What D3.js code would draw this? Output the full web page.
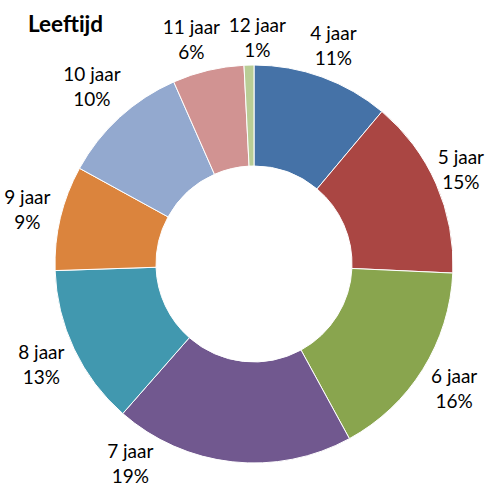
<!DOCTYPE html>
<html>
<head>
<meta charset="utf-8">
<script src="https://cdn.jsdelivr.net/npm/d3@7"></script>
<style>
body{margin:0;background:#fff}
</style>
</head>
<body>
<div id="chart"></div>
<script>
"use strict"
// ages and share (percent)
var categories=['4 jaar','5 jaar','6 jaar','7 jaar','8 jaar','9 jaar','10 jaar','11 jaar','12 jaar']
var values=[11.1,14.6,16.3,19.4,13.0,8.5,10.4,5.8,0.8]
var colors=['#4572A7','#AA4643','#89A54E','#71588F','#4198AF','#DB843D','#93A9CF','#D19392','#B9CD96']

var W=488,H=486
var cx=254,cy=264,rOut=199,rIn=98,gap=7
var font='Lato, "Open Sans", sans-serif'

var svg=d3.select('#chart').append('svg').attr('width',W).attr('height',H)

svg.append('text').attr('x',28).attr('y',32)
  .attr('font-family',font).attr('font-size',22.5).attr('font-weight','bold')
  .attr('fill','#000').text('Leeftijd')

var total=d3.sum(values)
var pie=d3.pie().sort(null).value(function(d){return d})
var arcs=pie(values)
var arc=d3.arc().innerRadius(rIn).outerRadius(rOut)

var g=svg.append('g').attr('transform','translate('+cx+','+cy+')')
g.selectAll('path').data(arcs).enter().append('path')
  .attr('d',arc)
  .attr('fill',function(d,i){return colors[i]})
  .attr('stroke','#fff').attr('stroke-width',1)

// labels: start at the slice middle, just outside the ring, then keep inside the page and apart
var labs=arcs.map(function(a,i){return {a:(a.startAngle+a.endAngle)/2,i:i}})
var lg=svg.append('g')
var hh=19.5
labs.forEach(function(l){
  l.t=lg.append('text').attr('font-family',font).attr('font-size',19).attr('fill','#000').attr('text-anchor','middle')
  l.t1=l.t.append('tspan').text(categories[l.i])
  l.t2=l.t.append('tspan').text(Math.round(values[l.i]/total*100)+'%')
  l.w=Math.max(l.t1.node().getComputedTextLength(),l.t2.node().getComputedTextLength())
})

function place(l){
  var s=Math.sin(l.a),c=Math.cos(l.a)
  var d=rOut+gap+l.w/2*Math.abs(s)+hh*Math.abs(c)
  l.x=cx+d*s
  l.y=cy-d*c
}
var minY=34,maxY=464
labs.forEach(function(l){
  place(l)
  var n=0
  while((l.y>maxY||l.y<minY)&&n<200){
    var side=Math.sin(l.a)>=0?1:-1
    // turn toward the horizontal on the same side
    l.a+=(l.y>maxY?-1:1)*side*0.005
    place(l)
    n++
  }
})
for(var k=0;k<300;k++){
  var moved=false
  for(var i=0;i<labs.length;i++){
    var p=labs[i],q=labs[(i+1)%labs.length]
    if(Math.abs(p.x-q.x)<(p.w+q.w)/2+8 && Math.abs(p.y-q.y)<2*hh+6){
      p.a-=0.005
      q.a+=0.005
      place(p);place(q)
      moved=true
    }
  }
  if(!moved)break
}
// keep inside the page sideways
labs.forEach(function(l){
  l.x=Math.max(l.w/2+4,Math.min(W-l.w/2-4,l.x))
})

labs.forEach(function(l){
  l.t1.attr('x',l.x).attr('y',l.y-6)
  l.t2.attr('x',l.x).attr('y',l.y+19)
})
</script>
</body>
</html>
